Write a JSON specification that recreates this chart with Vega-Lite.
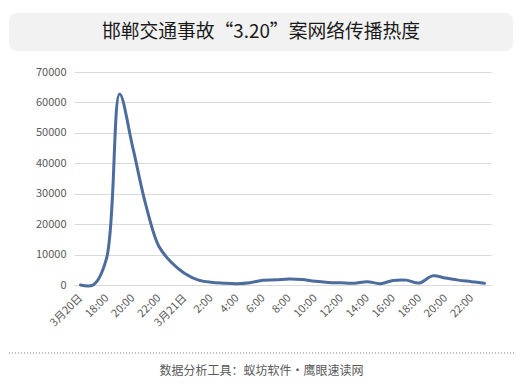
{
  "$schema": "https://vega.github.io/schema/vega-lite/v6.json",
  "background": "white",
  "padding": {"left": 8, "top": 13, "right": 8, "bottom": 0},
  "spacing": 15,
  "config": {"font": "Noto Sans CJK SC", "view": {"stroke": null}},
  "vconcat": [
    {
      "width": 439,
      "height": 38,
      "data": {"values": [{"x0": 0, "x1": 1, "tx": 0.5, "title": "邯郸交通事故“3.20”案网络传播热度"}]},
      "layer": [
        {
          "mark": {"type": "rect", "fill": "#f2f2f2", "cornerRadius": 8, "clip": false},
          "encoding": {
            "x": {"field": "x0", "type": "quantitative", "scale": {"domain": [0.12897, 1], "zero": false, "nice": false}, "axis": null},
            "x2": {"field": "x1"}
          }
        },
        {
          "mark": {"type": "text", "fontSize": 18.8, "color": "#1a1a1a", "font": "Noto Sans CJK SC"},
          "encoding": {
            "x": {"field": "tx", "type": "quantitative"},
            "text": {"field": "title"}
          }
        }
      ]
    },
    {
      "width": 417,
      "height": 213,
      "data": {"values": [
        {"slot": "3/20 16:00", "heat": 0},
        {"slot": "3/20 17:00", "heat": 100},
        {"slot": "3/20 18:00", "heat": 8800},
        {"slot": "3/20 19:00", "heat": 62800},
        {"slot": "3/20 20:00", "heat": 45400},
        {"slot": "3/20 21:00", "heat": 26500},
        {"slot": "3/20 22:00", "heat": 12800},
        {"slot": "3/20 23:00", "heat": 7300},
        {"slot": "3/21 0:00", "heat": 3800},
        {"slot": "3/21 1:00", "heat": 1700},
        {"slot": "3/21 2:00", "heat": 900},
        {"slot": "3/21 3:00", "heat": 600},
        {"slot": "3/21 4:00", "heat": 450},
        {"slot": "3/21 5:00", "heat": 750},
        {"slot": "3/21 6:00", "heat": 1550},
        {"slot": "3/21 7:00", "heat": 1700},
        {"slot": "3/21 8:00", "heat": 2000},
        {"slot": "3/21 9:00", "heat": 1800},
        {"slot": "3/21 10:00", "heat": 1200},
        {"slot": "3/21 11:00", "heat": 850},
        {"slot": "3/21 12:00", "heat": 700},
        {"slot": "3/21 13:00", "heat": 600},
        {"slot": "3/21 14:00", "heat": 1100},
        {"slot": "3/21 15:00", "heat": 450},
        {"slot": "3/21 16:00", "heat": 1500},
        {"slot": "3/21 17:00", "heat": 1600},
        {"slot": "3/21 18:00", "heat": 650},
        {"slot": "3/21 19:00", "heat": 3000},
        {"slot": "3/21 20:00", "heat": 2300},
        {"slot": "3/21 21:00", "heat": 1600},
        {"slot": "3/21 22:00", "heat": 1100},
        {"slot": "3/21 23:00", "heat": 550}
      ]},
      "mark": {"type": "line", "interpolate": "catmull-rom", "strokeWidth": 3, "color": "#4c6c9e", "strokeCap": "round"},
      "encoding": {
        "x": {
          "field": "slot",
          "type": "ordinal",
          "sort": null,
          "scale": {"type": "point", "padding": 0.5},
          "axis": {
            "title": null,
            "values": ["3/20 16:00", "3/20 18:00", "3/20 20:00", "3/20 22:00", "3/21 0:00", "3/21 2:00", "3/21 4:00", "3/21 6:00", "3/21 8:00", "3/21 10:00", "3/21 12:00", "3/21 14:00", "3/21 16:00", "3/21 18:00", "3/21 20:00", "3/21 22:00"],
            "labelExpr": "datum.value == '3/20 16:00' ? '3月20日' : (datum.value == '3/21 0:00' ? '3月21日' : split(datum.value, ' ')[1])",
            "labelAngle": -45,
            "labelAlign": "right",
            "labelBaseline": "middle",
            "labelPadding": 11,
            "labelFontSize": 11,
            "labelColor": "#595959",
            "ticks": false,
            "grid": false,
            "domainColor": "#d9d9d9",
            "minExtent": 52
          }
        },
        "y": {
          "field": "heat",
          "type": "quantitative",
          "scale": {"domain": [0, 70000]},
          "axis": {
            "title": null,
            "values": [0, 10000, 20000, 30000, 40000, 50000, 60000, 70000],
            "format": "d",
            "domain": false,
            "ticks": false,
            "labelPadding": 8,
            "labelFontSize": 11,
            "labelColor": "#595959",
            "gridColor": "#d9d9d9",
            "minExtent": 65
          }
        }
      }
    },
    {
      "width": 440,
      "height": 36,
      "data": {"values": [{"x0": 0, "x1": 1, "ly": 1, "tx": 0.5, "ty": 0.5, "label": "数据分析工具：蚁坊软件・鹰眼速读网"}]},
      "layer": [
        {
          "mark": {"type": "rule", "color": "#7f7f7f", "strokeDash": [1, 2], "strokeWidth": 1, "clip": false},
          "encoding": {
            "x": {"field": "x0", "type": "quantitative", "scale": {"domain": [0.1287, 1], "zero": false, "nice": false}, "axis": null},
            "x2": {"field": "x1"},
            "y": {"field": "ly", "type": "quantitative", "scale": {"domain": [0, 1], "nice": false}, "axis": null}
          }
        },
        {
          "mark": {"type": "text", "fontSize": 12, "color": "#595959", "font": "Noto Sans CJK SC"},
          "encoding": {
            "x": {"field": "tx", "type": "quantitative"},
            "y": {"field": "ty", "type": "quantitative"},
            "text": {"field": "label"}
          }
        }
      ]
    }
  ]
}
